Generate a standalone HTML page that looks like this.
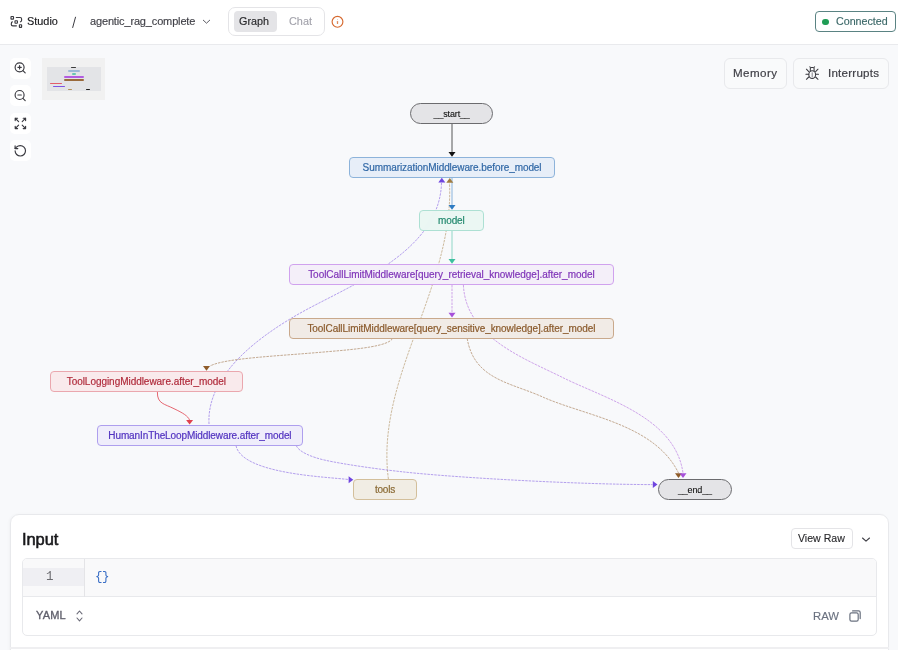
<!DOCTYPE html>
<html><head><meta charset="utf-8">
<style>
*{box-sizing:border-box;margin:0;padding:0}
html,body{width:898px;height:654px;overflow:hidden;background:#f8f9fb;font-family:"Liberation Sans",sans-serif;position:relative}
.a{position:absolute;white-space:nowrap}
#hdr{position:absolute;left:0;top:0;width:898px;height:45px;background:#fff;border-bottom:1px solid #e9eaed}
.t{position:absolute;white-space:nowrap;line-height:1;will-change:transform}
.zb{position:absolute;left:10px;width:21px;height:21px;background:#fff;border-radius:5px}
.node{position:absolute;border:1px solid;border-radius:4px;font-size:10px;line-height:20px;text-align:center;white-space:nowrap;-webkit-text-stroke:.2px currentColor;backdrop-filter:blur(1.5px);will-change:transform}
.pill{border-radius:11px;background:#e4e4e7;border-color:#6b6b6e;color:#111;-webkit-text-stroke:.1px currentColor}
.btn{position:absolute;border:1px solid #e8e9ec;border-radius:6px;background:#f9fafb}
.ic{position:absolute;fill:none;stroke-linecap:round;stroke-linejoin:round}
</style></head><body>
<div id="hdr">
  <svg class="ic" style="left:8px;top:13px" width="18" height="18" viewBox="0 0 18 18" stroke="#3a3a40" stroke-width="1.15">
    <rect x="3" y="3.5" width="2.5" height="2.6" rx=".4" stroke-linejoin="miter"/>
    <rect x="7" y="7.7" width="2.4" height="2.5" rx=".4" stroke-linejoin="miter"/>
    <rect x="11.4" y="11.7" width="2.2" height="2.6" rx=".4" stroke-linejoin="miter"/>
    <path d="M8.3,4.5 H12.2 Q13.6,4.5 13.6,6 V7.2 Q13.6,8.3 12.5,8.8"/>
    <path d="M4.3,8.8 Q3.3,9.5 3.3,11 V11.4 Q3.3,12.8 4.8,12.8 H8.4"/>
  </svg>
  <div class="t" style="left:27.3px;top:15.5px;font-size:10.9px;-webkit-text-stroke:.15px currentColor;color:#18181b">Studio</div>
  <svg class="ic" style="left:0;top:0" width="90" height="40" viewBox="0 0 90 40" stroke="#3a3a40" stroke-width="1"><path d="M75.5,17.2 L72.7,27.5"/></svg>
  <div class="t" style="left:89.8px;top:16.2px;font-size:11px;letter-spacing:-.15px;-webkit-text-stroke:.15px currentColor;color:#3f3f46">agentic_rag_complete</div>
  <svg class="ic" style="left:202px;top:18px" width="9" height="7" viewBox="0 0 9 7" stroke="#52525b" stroke-width=".95"><path d="M1.3,2.2 L4.5,5.2 L7.7,2.2"/></svg>
  <div class="a" style="left:227.5px;top:7px;width:97px;height:29px;border:1px solid #e4e4e7;border-radius:7px;background:#fff"></div>
  <div class="a" style="left:234px;top:11px;width:42.5px;height:20.5px;background:#e4e4e7;border-radius:4px"></div>
  <div class="t" style="left:239px;top:15.8px;font-size:10.8px;-webkit-text-stroke:.15px currentColor;color:#27272a">Graph</div>
  <div class="t" style="left:289px;top:15.8px;font-size:10.9px;-webkit-text-stroke:.1px currentColor;color:#a1a1aa">Chat</div>
  <svg class="ic" style="left:330px;top:15px" width="14" height="14" viewBox="0 0 14 14" stroke="#d66a30" stroke-width="1.15"><circle cx="7.5" cy="6.8" r="5.4"/><path d="M7.5,6.6 V8.4" stroke-width="1.3" stroke-opacity=".8"/><path d="M7.5,4.6 V4.7" stroke-width=".8" stroke-opacity=".5"/></svg>
  <div class="a" style="left:815px;top:11px;width:81px;height:21px;border:1px solid #5a8383;border-radius:4px"></div>
  <div class="a" style="left:822.3px;top:18.5px;width:6.6px;height:6.6px;border-radius:50%;background:#1f9d55"></div>
  <div class="t" style="left:835.8px;top:16.2px;font-size:10.7px;-webkit-text-stroke:.15px currentColor;color:#3a6767">Connected</div>
</div>

<div class="zb" style="top:57.5px"></div>
<div class="zb" style="top:85px"></div>
<div class="zb" style="top:112.7px"></div>
<div class="zb" style="top:140.3px"></div>
<svg class="ic" style="left:0;top:0" width="40" height="170" viewBox="0 0 40 170" stroke="#3a3a40" stroke-width="1.15">
  <circle cx="19.6" cy="67.3" r="4.5"/><path d="M22.9,70.6 L25.2,72.9"/><path d="M19.6,65.6 V69 M17.9,67.3 H21.3"/>
  <circle cx="19.6" cy="95" r="4.5"/><path d="M22.9,98.3 L25.2,100.6"/><path d="M17.9,95 H21.3"/>
  <path d="M18.6,121.6 L15.2,118.2 M15.2,120.6 V118.2 H17.6"/>
  <path d="M22.2,121.6 L25.6,118.2 M23.2,118.2 H25.6 V120.6"/>
  <path d="M18.6,125.2 L15.2,128.6 M15.2,126.2 V128.6 H17.6"/>
  <path d="M22.2,125.2 L25.6,128.6 M23.2,128.6 H25.6 V126.2"/>
  <path d="M15.1,150.8 A5.2,5.2 0 1 0 20.3,145.6 A5.6,5.6 0 0 0 16.4,147.2 L15.1,148.5"/><path d="M15.1,145.9 V148.6 H17.8"/>
</svg>

<div class="a" style="left:42px;top:57.5px;width:63px;height:42px;background:#f1f1f1"></div><div class="a" style="left:47px;top:67px;width:53.5px;height:23.5px;background:#e3e4e7"></div><div class="a" style="left:71px;top:66.7px;width:5.299999999999997px;height:1.6px;background:#3b3b3b;border-radius:1px"></div><div class="a" style="left:68px;top:70.10000000000001px;width:12.299999999999997px;height:1.6px;background:#9cb9d6;border-radius:1px"></div><div class="a" style="left:72px;top:73.0px;width:4px;height:1.6px;background:#68c9b0;border-radius:1px"></div><div class="a" style="left:64px;top:76.3px;width:19.700000000000003px;height:1.6px;background:#b35ce0;border-radius:1px"></div><div class="a" style="left:64px;top:79.4px;width:19.700000000000003px;height:1.6px;background:#9a6a3c;border-radius:1px"></div><div class="a" style="left:50px;top:82.7px;width:11.899999999999999px;height:1.6px;background:#e35d6a;border-radius:1px"></div><div class="a" style="left:53.2px;top:85.7px;width:11.899999999999991px;height:1.6px;background:#7d55e3;border-radius:1px"></div><div class="a" style="left:68px;top:88.60000000000001px;width:4.099999999999994px;height:1.6px;background:#b4935c;border-radius:1px"></div><div class="a" style="left:86px;top:88.60000000000001px;width:4.099999999999994px;height:1.6px;background:#1f1f1f;border-radius:1px"></div>

<div class="btn" style="left:724px;top:57.5px;width:63px;height:31px"></div>
<div class="t" style="left:733.3px;top:66.5px;font-size:11.6px;letter-spacing:.42px;-webkit-text-stroke:.2px currentColor;color:#3f3f46">Memory</div>
<div class="btn" style="left:793px;top:57.5px;width:96px;height:31px"></div>
<svg class="ic" style="left:800px;top:62px" width="24" height="22" viewBox="800 62 24 22" stroke="#3a3a40" stroke-width="1.05">
  <ellipse cx="812.2" cy="74.6" rx="3.4" ry="3.9"/>
  <path d="M810.3,70.9 V68.6 Q810.3,67.4 811.5,67.4 H812.9 Q814.1,67.4 814.1,68.6 V70.9"/>
  <path d="M810.4,67.3 L809.8,66.8 M814,67.3 L814.6,66.8"/>
  <path d="M808.8,71.6 L806.4,69.2 M808.7,74.3 H805.9 M808.8,77 L806.4,79.3"/>
  <path d="M815.6,71.6 L818,69.2 M815.7,74.3 H818.5 M815.6,77 L818,79.3"/>
  <path d="M812.2,72.8 V77" stroke="#8a8a90"/>
</svg>
<div class="t" style="left:828.3px;top:66.5px;font-size:11.6px;letter-spacing:.22px;-webkit-text-stroke:.2px currentColor;color:#3f3f46">Interrupts</div>

<svg id="edges" class="a" style="left:0;top:0" width="898" height="654" viewBox="0 0 898 654" fill="none" stroke-width="1">
<path d="M452,124 V152" stroke="#111" stroke-opacity=".7"/>
<path d="M452,178 V205.5" stroke="#2f7cc3" stroke-opacity=".55"/>
<path d="M452,231 V259.5" stroke="#3dbf9f" stroke-opacity=".55"/>
<path d="M452,285 V313" stroke="#a650da" stroke-dasharray="2.5 1" stroke-opacity=".5"/>
<path d="M209.0,424.0 C206.4,374.3 260.0,336.4 296.3,315.3 C346.9,286 439.5,253.8 441.5,183.0" stroke="#6f45e0" stroke-dasharray="2.5 1" stroke-opacity=".5"/>
<path d="M388.4,479.0 C381.9,430.3 397.3,383.3 413.4,338.7 C431.2,289.4 452.1,236.2 449.5,183.0" stroke="#a17c40" stroke-dasharray="2.5 1" stroke-opacity=".5"/>
<path d="M392.6,338.5 C388,346 360,349 328.4,351.6 C280,356 225,358 210,366" stroke="#8f5c2a" stroke-dasharray="2.5 1" stroke-opacity=".5"/>
<path d="M463.4,285.0 C465.6,335.7 520.9,357.1 560.0,376.2 C603.2,398.3 675.2,416.5 683.0,473.0" stroke="#a650da" stroke-dasharray="2.5 1" stroke-opacity=".5"/>
<path d="M467.2,338.5 C474.2,380.2 511.8,382.6 544.5,397.8 C588.3,416.5 655.0,424.9 678.5,473.0" stroke="#8f5c2a" stroke-dasharray="2.5 1" stroke-opacity=".5"/>
<path d="M236.0,445.6 C241.7,474.2 327.7,476.9 348.3,479.5" stroke="#6f45e0" stroke-dasharray="2.5 1" stroke-opacity=".5"/>
<path d="M296.2,445.6 C299,452 312,457.3 325.1,460.2 C345,464.6 380,469.4 405,472.1 C460,478 580,484.5 652.5,484.6" stroke="#6f45e0" stroke-dasharray="2.5 1" stroke-opacity=".5"/>
<path d="M157.4,392 C157,404 165,404 174,408.7 C183,413 188,416 189.5,420" stroke="#e0424f" stroke-opacity=".8"/>
<polygon points="448.5,152.0 455.5,152.0 452,156.7" fill="#111"/><polygon points="448.5,205.10000000000002 455.5,205.10000000000002 452,209.8" fill="#2f7cc3"/><polygon points="448.5,259.1 455.5,259.1 452,263.8" fill="#3dbf9f"/><polygon points="448.5,312.8 455.5,312.8 452,317.5" fill="#a650da"/>
<polygon points="203.0,366.1 210.0,366.1 206.5,370.8" fill="#8f5c2a"/><polygon points="186.1,419.90000000000003 193.1,419.90000000000003 189.6,424.6" fill="#e0424f"/><polygon points="438.3,182.5 445.3,182.5 441.8,177.8" fill="#6f45e0"/><polygon points="446.3,182.7 453.3,182.7 449.8,178" fill="#a17c40"/>
<polygon points="348.6,476.2 348.6,483.2 353.3,479.7" fill="#6f45e0"/><polygon points="652.8,481.1 652.8,488.1 657.5,484.6" fill="#6f45e0"/><polygon points="675.0,473.3 682.0,473.3 678.5,478" fill="#8f5c2a"/><polygon points="679.5,473.3 686.5,473.3 683,478" fill="#a650da"/>
</svg>

<div class="node pill" style="left:409.5px;top:102.8px;width:83.3px;height:21px;background:#e4e4e7;border-color:#6b6b6e;color:#111;letter-spacing:-0.15px;font-size:9px;">__start__</div>
<div class="node" style="left:348.5px;top:156.9px;width:206.1px;height:21px;background:rgba(229,237,247,.92);border-color:#8db3da;color:#3168a6;letter-spacing:-0.08px;">SummarizationMiddleware.before_model</div>
<div class="node" style="left:418.6px;top:210.1px;width:64.7px;height:21px;background:rgba(233,246,242,.92);border-color:#ade0d3;color:#22896e;letter-spacing:-0.1px;">model</div>
<div class="node" style="left:289.0px;top:263.9px;width:324.9px;height:21px;background:rgba(243,238,249,.92);border-color:#d0a2ee;color:#7f34b8;letter-spacing:-0.03px;">ToolCallLimitMiddleware[query_retrieval_knowledge].after_model</div>
<div class="node" style="left:289.0px;top:317.6px;width:324.9px;height:21px;background:rgba(239,233,227,.9);border-color:#c9a98c;color:#8a5a2c;letter-spacing:-0.06px;">ToolCallLimitMiddleware[query_sensitive_knowledge].after_model</div>
<div class="node" style="left:50.0px;top:371.1px;width:192.7px;height:21px;background:rgba(248,232,234,.92);border-color:#eaa7ae;color:#b02c3c;letter-spacing:-0.04px;">ToolLoggingMiddleware.after_model</div>
<div class="node" style="left:96.6px;top:424.9px;width:205.8px;height:21px;background:rgba(238,235,251,.92);border-color:#ae9fee;color:#5233c0;letter-spacing:-0.1px;">HumanInTheLoopMiddleware.after_model</div>
<div class="node" style="left:353.1px;top:478.9px;width:63.9px;height:21px;background:rgba(240,235,226,.92);border-color:#d3bf9b;color:#8a6a34;letter-spacing:-0.2px;">tools</div>
<div class="node pill" style="left:657.7px;top:478.7px;width:73.8px;height:21px;background:#e4e4e7;border-color:#6b6b6e;color:#111;letter-spacing:-0.15px;font-size:9px;">__end__</div>

<div class="a" style="left:10px;top:514px;width:879px;height:160px;background:#fff;border:1px solid #e8e9ec;border-radius:9px;box-shadow:-1px 0 3px rgba(0,0,0,.03)"></div>
<div class="t" style="left:21.8px;top:530.5px;font-size:16.5px;color:#18181b;letter-spacing:-.1px;-webkit-text-stroke:.55px currentColor">Input</div>
<div class="a" style="left:791px;top:528px;width:62px;height:20.5px;border:1px solid #e4e4e7;border-radius:4px;background:#fff"></div>
<div class="t" style="left:798.3px;top:532.5px;font-size:10.6px;color:#27272a;-webkit-text-stroke:.1px currentColor">View Raw</div>
<svg class="ic" style="left:861px;top:535.8px" width="10" height="7" viewBox="0 0 10 7" stroke="#3f3f46" stroke-width="1.1"><path d="M1.5,2 L5,5.2 L8.5,2"/></svg>
<div class="a" style="left:21.8px;top:557.5px;width:855.2px;height:78.3px;border:1px solid #e8e9ec;border-radius:5px;overflow:hidden">
  <div class="a" style="left:0;top:0;width:853px;height:38px;background:#f9f9fa;border-bottom:1px solid #e8e9ec"></div>
  <div class="a" style="left:60.8px;top:0;width:1px;height:38px;background:#e4e4e7"></div>
  <div class="a" style="left:0;top:9px;width:61px;height:18px;background:#efeff3"></div>
  <div class="t" style="left:23px;top:12.5px;font-family:'Liberation Mono',monospace;font-size:12.5px;color:#6b6b70">1</div>
  <div class="t" style="left:72.5px;top:12px;font-family:'Liberation Mono',monospace;font-size:12.5px;color:#3a6fc6;letter-spacing:-.6px">{}</div>
</div>
<div class="t" style="left:36.3px;top:609.8px;font-size:11px;color:#5f5f6b;-webkit-text-stroke:.35px currentColor;letter-spacing:.15px">YAML</div>
<svg class="ic" style="left:74px;top:608px" width="12" height="16" viewBox="0 0 12 16" stroke="#6b6b78" stroke-width="1.1"><path d="M3,5.8 L5.5,3 L8,5.8 M3,10 L5.5,12.8 L8,10"/></svg>
<div class="t" style="left:813px;top:611px;font-size:11.3px;color:#6b7280;-webkit-text-stroke:.15px currentColor">RAW</div>
<svg class="ic" style="left:846px;top:607px" width="18" height="18" viewBox="0 0 18 18" stroke="#6b7280" stroke-width="1.2">
  <rect x="3.9" y="5.9" width="8.3" height="8.3" rx="1.6"/>
  <path d="M6.6,3.9 H12.6 Q14.2,3.9 14.2,5.5 V11.6"/>
</svg>
<div class="a" style="left:10px;top:647px;width:879px;height:1.5px;background:#efeff1"></div>
<div class="a" style="left:0;top:649.7px;width:898px;height:5px;background:#fff"></div>
</body></html>
